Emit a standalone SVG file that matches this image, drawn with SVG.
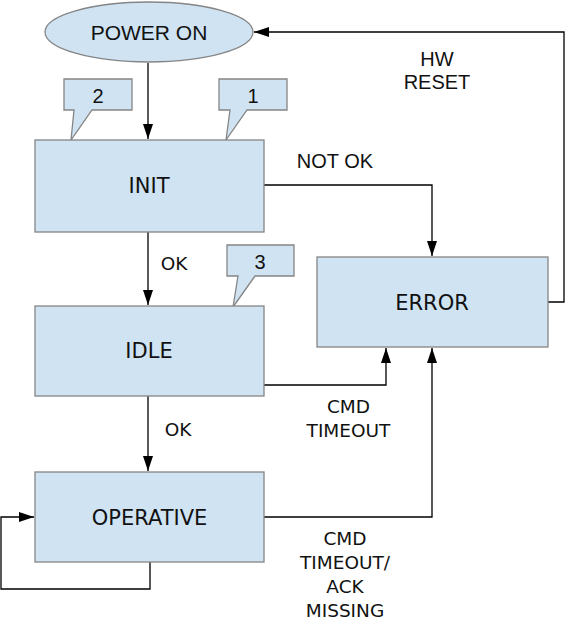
<svg xmlns="http://www.w3.org/2000/svg" width="567" height="627" viewBox="0 0 567 627">
<style>
.node{fill:#cfe3f3;stroke:#858585;stroke-width:1.3}
.c{fill:none;stroke:#000;stroke-width:1.3;marker-end:url(#ah)}
.v{font-family:"DejaVu Sans",Verdana,sans-serif;fill:#111;text-anchor:middle}
.a{font-family:"Liberation Sans",Arial,sans-serif;fill:#111;text-anchor:middle}
.nl{font-size:21px}
.el{font-size:18.5px}
</style>
<defs>
<marker id="ah" markerUnits="userSpaceOnUse" markerWidth="16" markerHeight="12" refX="15" refY="5" orient="auto">
<path d="M0,0 L15,5 L0,10 Z" fill="#000"/>
</marker>
</defs>
<rect width="567" height="627" fill="#fff"/>
<g id="connectors">
<path class="c" d="M148,63 V139"/>
<path class="c" d="M148,232 V305"/>
<path class="c" d="M148,396 V471"/>
<path class="c" d="M264,185 H432 V256"/>
<path class="c" d="M264,385 H386 V348"/>
<path class="c" d="M264,517 H432 V348"/>
<path class="c" d="M548,302 H564 V32 H254"/>
<path class="c" d="M150,562 V589 H1 V517 H34"/>
<text class="a" x="335" y="168" font-size="20">NOT OK</text>
<text class="a" x="437" y="66" font-size="20">HW</text>
<text class="a" x="437" y="89" font-size="20">RESET</text>
<text class="v el" x="174" y="270">OK</text>
<text class="v el" x="178" y="436">OK</text>
<text class="v el" x="348.5" y="413">CMD</text>
<text class="v el" x="348.5" y="437">TIMEOUT</text>
<text class="v el" x="345" y="545">CMD</text>
<text class="v el" x="345" y="569">TIMEOUT/</text>
<text class="v el" x="345" y="593">ACK</text>
<text class="v el" x="345" y="617">MISSING</text>
</g>
<g id="power-on">
<ellipse class="node" cx="149" cy="32" rx="104" ry="30"/>
<text class="a" x="149" y="40" font-size="21">POWER ON</text>
</g>
<g id="callout-2">
<path class="node" d="M64,79 H132 V110 H92 L71,140 L74,110 H64 Z"/>
<text class="a" x="98" y="103" font-size="20">2</text>
</g>
<g id="callout-1">
<path class="node" d="M219,79 H287 V110 H247 L226,140 L230,110 H219 Z"/>
<text class="a" x="253" y="103" font-size="20">1</text>
</g>
<g id="callout-3">
<path class="node" d="M227,245 H294 V276 H255 L233,307 L238,276 H227 Z"/>
<text class="a" x="260" y="269" font-size="20">3</text>
</g>
<g id="init">
<rect class="node" x="35" y="140" width="229" height="92"/>
<text class="v nl" x="149" y="193">INIT</text>
</g>
<g id="idle">
<rect class="node" x="35" y="306" width="229" height="90"/>
<text class="v nl" x="149" y="358">IDLE</text>
</g>
<g id="operative">
<rect class="node" x="35" y="472" width="229" height="90"/>
<text class="v nl" x="149.5" y="525">OPERATIVE</text>
</g>
<g id="error">
<rect class="node" x="317" y="257" width="231" height="90"/>
<text class="v nl" x="432" y="310">ERROR</text>
</g>
</svg>
